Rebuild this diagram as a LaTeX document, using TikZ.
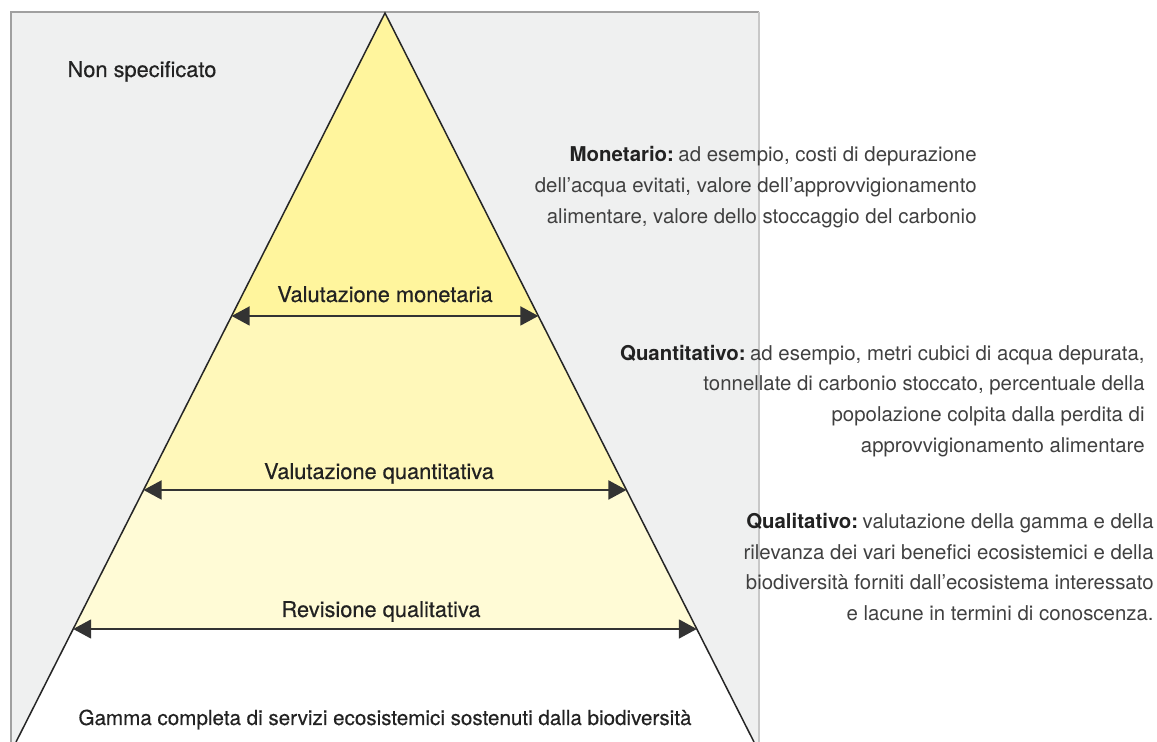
\documentclass[tikz,border=0pt]{standalone}
\usepackage{fontspec}
\setmainfont{TeX Gyre Heros}
\newfontfamily\medfont[FakeBold=0.35]{TeX Gyre Heros}
\usetikzlibrary{arrows.meta,calc}
\definecolor{bggrey}{HTML}{EFF0F0}
\definecolor{edgegrey}{HTML}{A0A0A0}
\definecolor{edgelight}{HTML}{C8C8C8}
\definecolor{bandA}{HTML}{FFF59D}
\definecolor{bandB}{HTML}{FFF8BA}
\definecolor{bandC}{HTML}{FFFBD6}
\definecolor{ink}{HTML}{222222}
\definecolor{softink}{HTML}{404040}
\definecolor{arrowink}{HTML}{333333}
\tikzset{
  lbl/.style={inner sep=0pt, text=ink, anchor=base, font=\medfont\fontsize{10.9}{13}\selectfont},
  desc/.style={inner sep=0pt, text=softink, anchor=east, align=right, font=\fontsize{10.2}{15.4}\selectfont},
  measure/.style={draw=arrowink, line width=0.9pt, {Triangle[length=9pt,width=9.5pt]}-{Triangle[length=9pt,width=9.5pt]}},
  pyr/.style={draw=black!85, line width=0.75pt}
}
\begin{document}
\begin{tikzpicture}[x=0.5pt,y=-0.5pt]
\useasboundingbox (0,0) rectangle (1157,742);
% grey panel
\fill[bggrey] (11,12) rectangle (759,742);
\draw[edgegrey, line width=0.6pt] (11,742) -- (11,12) -- (759,12);
\draw[edgelight, line width=0.8pt] (759,12) -- (759,742);
% pyramid geometry
\coordinate (apex) at (385,13);
\coordinate (bl) at (16,742);
\coordinate (br) at (754,742);
\coordinate (m1l) at ($(apex)!0.4156!(bl)$);
\coordinate (m1r) at ($(apex)!0.4156!(br)$);
\coordinate (m2l) at ($(apex)!0.6543!(bl)$);
\coordinate (m2r) at ($(apex)!0.6543!(br)$);
\coordinate (m3l) at ($(apex)!0.8450!(bl)$);
\coordinate (m3r) at ($(apex)!0.8450!(br)$);
% bands
\begin{scope}
  \clip (apex) -- (br) -- (bl) -- cycle;
  \fill[white] (0,0) rectangle (800,742);
  \fill[bandA] (0,0) rectangle (800,316);
  \fill[bandB] (0,316) rectangle (800,490);
  \fill[bandC] (0,490) rectangle (800,629);
\end{scope}
\draw[pyr] (bl) -- (apex) -- (br);
% measure arrows
\draw[measure] (m1l) -- (m1r);
\draw[measure] (m2l) -- (m2r);
\draw[measure] (m3l) -- (m3r);
% labels
\node[lbl] (nonspec) at (142,77) {Non specificato};
\node[lbl] (valmon) at (385,302) {Valutazione monetaria};
\node[lbl] (valquant) at (379,479) {Valutazione quantitativa};
\node[lbl] (revqual) at (381,617) {Revisione qualitativa};
\node[lbl, font=\medfont\fontsize{10.3}{13}\selectfont] (gamma) at (385,725) {Gamma completa di servizi ecosistemici sostenuti dalla biodiversità};
% descriptions
\node[desc] (monet) at (977,187) {\textcolor{ink}{\textbf{Monetario:}}\hspace{-0.15em} ad esempio, costi di depurazione\\dell’acqua evitati, valore dell’approvvigionamento\\alimentare, valore dello stoccaggio del carbonio};
\node[desc] (quant) at (1145,401) {\textcolor{ink}{\textbf{Quantitativo:}}\hspace{-0.15em} ad esempio, metri cubici di acqua depurata,\\tonnellate di carbonio stoccato, percentuale della\\popolazione colpita dalla perdita di\\approvvigionamento alimentare};
\node[desc] (qual) at (1154,567) {\textcolor{ink}{\textbf{Qualitativo:}}\hspace{-0.15em} valutazione della gamma e della\\rilevanza dei vari benefici ecosistemici e della\\biodiversità forniti dall’ecosistema interessato\\e lacune in termini di conoscenza.};
\end{tikzpicture}
\end{document}
